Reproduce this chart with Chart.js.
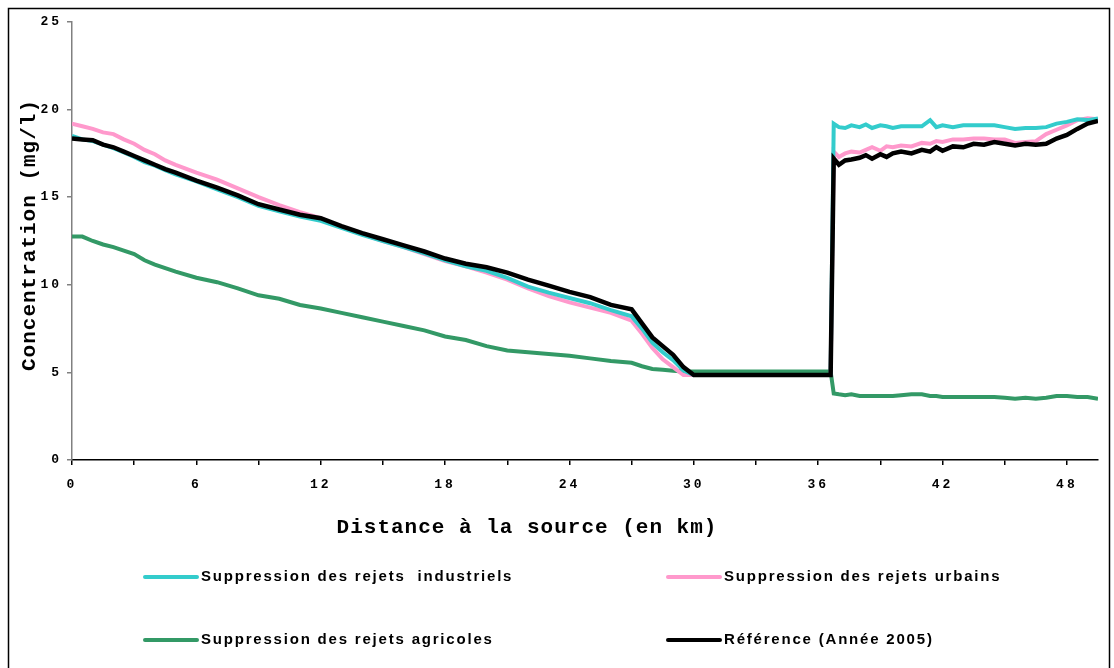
<!DOCTYPE html>
<html lang="fr">
<head>
<meta charset="utf-8">
<title>Concentration le long du cours d'eau</title>
<script src="https://cdn.jsdelivr.net/npm/chart.js@4/dist/chart.umd.min.js"></script>
<style>
  body { margin: 0; background: #fff; }
  #wrap { width: 1114px; height: 668px; }
</style>
</head>
<body>
<div id="wrap"><canvas id="concChart" width="1114" height="668"></canvas></div>
<script>
// distance from the source (km), shared by every series
const distanceKm = [
  0, 0.5, 1, 1.5, 2, 2.5, 3, 3.5, 4, 4.5, 5, 6, 7, 8, 9, 10, 11, 12, 13, 14,
  15, 16, 17, 18, 19, 20, 21, 22, 23, 24, 25, 26, 27, 27.5, 28, 28.5, 29, 29.5, 30, 33,
  36.6, 36.75, 37, 37.3, 37.6, 38, 38.3, 38.6, 39, 39.3, 39.6, 40, 40.5, 41, 41.4, 41.7,
  42, 42.5, 43, 43.5, 44, 44.5, 45, 45.5, 46, 46.5, 47, 47.5, 48, 48.5, 49, 49.5
];

const industriels = [
  18.5, 18.3, 18.2, 18.0, 17.8, 17.55, 17.3, 17.0, 16.8, 16.55, 16.3, 15.9, 15.45, 15.0, 14.5, 14.2, 13.9, 13.65, 13.25, 12.85,
  12.5, 12.15, 11.8, 11.4, 11.05, 10.8, 10.4, 9.9, 9.55, 9.25, 8.95, 8.55, 8.2, 7.5, 6.7, 6.15, 5.7, 5.1, 4.85, 4.85,
  4.85, 19.2, 19.0, 18.95, 19.1, 19.0, 19.15, 18.95, 19.1, 19.05, 18.95, 19.05, 19.05, 19.05, 19.4, 19.0,
  19.1, 19.0, 19.1, 19.1, 19.1, 19.1, 19.0, 18.9, 18.95, 18.95, 19.0, 19.2, 19.3, 19.45, 19.4, 19.5
];

const urbains = [
  19.2, 19.05, 18.9, 18.7, 18.6, 18.3, 18.05, 17.7, 17.45, 17.1, 16.85, 16.4, 16.0, 15.5, 15.0, 14.55, 14.15, 13.8, 13.3, 12.9,
  12.5, 12.15, 11.75, 11.35, 11.05, 10.7, 10.3, 9.8, 9.35, 9.0, 8.7, 8.4, 7.95, 7.2, 6.4, 5.75, 5.3, 4.85, 4.85, 4.85,
  4.85, 17.6, 17.3, 17.5, 17.6, 17.55, 17.7, 17.85, 17.65, 17.9, 17.85, 17.95, 17.9, 18.1, 18.05, 18.2,
  18.15, 18.3, 18.3, 18.35, 18.35, 18.3, 18.3, 18.1, 18.15, 18.2, 18.6, 18.85, 19.1, 19.4, 19.5, 19.45
];

const agricoles = [
  12.75, 12.75, 12.5, 12.3, 12.15, 11.95, 11.75, 11.4, 11.15, 10.95, 10.75, 10.4, 10.15, 9.8, 9.4, 9.2, 8.85, 8.65, 8.4, 8.15,
  7.9, 7.65, 7.4, 7.05, 6.85, 6.5, 6.25, 6.15, 6.05, 5.95, 5.8, 5.65, 5.55, 5.35, 5.2, 5.15, 5.1, 5.05, 5.05, 5.05,
  5.05, 3.8, 3.75, 3.7, 3.75, 3.65, 3.65, 3.65, 3.65, 3.65, 3.65, 3.7, 3.75, 3.75, 3.65, 3.65,
  3.6, 3.6, 3.6, 3.6, 3.6, 3.6, 3.55, 3.5, 3.55, 3.5, 3.55, 3.65, 3.65, 3.6, 3.6, 3.5
];

const reference2005 = [
  18.35, 18.3, 18.25, 18.0, 17.85, 17.6, 17.35, 17.1, 16.85, 16.6, 16.4, 15.95, 15.55, 15.1, 14.6, 14.3, 14.0, 13.8, 13.35, 12.95,
  12.6, 12.25, 11.9, 11.5, 11.2, 11.0, 10.7, 10.3, 9.95, 9.6, 9.3, 8.85, 8.6, 7.8, 7.0, 6.5, 6.0, 5.3, 4.85, 4.85,
  4.85, 17.2, 16.85, 17.1, 17.15, 17.25, 17.4, 17.2, 17.45, 17.3, 17.5, 17.6, 17.5, 17.7, 17.6, 17.85,
  17.65, 17.9, 17.85, 18.05, 18.0, 18.15, 18.05, 17.95, 18.05, 18.0, 18.05, 18.35, 18.55, 18.9, 19.2, 19.35
];

const seriesLabels = [
  'Suppression des rejets  industriels',
  'Suppression des rejets urbains',
  'Suppression des rejets agricoles',
  'Référence (Année 2005)'
];
const seriesColors = ['#33cccc', '#ff99cc', '#339966', '#000000'];

const xTickLabels = { 0: '0', 6: '6', 12: '12', 18: '18', 24: '24', 30: '30', 36: '36', 42: '42', 48: '48' };

function toPoints(values) {
  return distanceKm.map((d, i) => ({ x: d, y: values[i] }));
}

const monoFont = '"Liberation Mono", "Courier New", monospace';
const legendFont = '"Liberation Sans Narrow", "Liberation Sans", Arial, sans-serif';

// frame, spaced lettering, axis titles and the two-column legend
const decorPlugin = {
  id: 'decor',
  beforeDraw(chart) {
    const ctx = chart.ctx;
    ctx.save();
    ctx.strokeStyle = '#000';
    ctx.lineWidth = 1.5;
    ctx.strokeRect(8.5, 8.5, 1101, 700);
    ctx.restore();
    ctx.letterSpacing = '3px';
  },
  afterDraw(chart) {
    const ctx = chart.ctx;
    const area = chart.chartArea;
    ctx.save();
    ctx.letterSpacing = '1px';
    ctx.fillStyle = '#000';
    ctx.font = 'bold 21px ' + monoFont;
    ctx.textAlign = 'center';
    ctx.textBaseline = 'middle';
    ctx.fillText('Distance à la source (en km)', 527, 528);

    ctx.translate(30, (area.top + area.bottom) / 2 - 6);
    ctx.rotate(-Math.PI / 2);
    ctx.fillText('Concentration (mg/l)', 0, 0);
    ctx.restore();

    // legend
    const slots = [
      { x: 145, y: 577 }, { x: 668, y: 577 },
      { x: 145, y: 640 }, { x: 668, y: 640 }
    ];
    ctx.save();
    ctx.letterSpacing = '1.8px';
    ctx.font = 'bold 15px ' + legendFont;
    ctx.textBaseline = 'middle';
    ctx.textAlign = 'left';
    ctx.lineCap = 'round';
    chart.data.datasets.forEach((ds, i) => {
      const s = slots[i];
      ctx.strokeStyle = ds.borderColor;
      ctx.lineWidth = 4;
      ctx.beginPath();
      ctx.moveTo(s.x, s.y);
      ctx.lineTo(s.x + 52, s.y);
      ctx.stroke();
      ctx.fillStyle = '#000';
      ctx.fillText(ds.label, s.x + 56, s.y);
    });
    ctx.restore();
    ctx.letterSpacing = '0px';
  }
};

const seriesValues = [industriels, urbains, agricoles, reference2005];
const drawOrder = [1, 2, 3, 0];
const lineWidths = [4, 4, 4, 4.5];

const datasets = seriesValues.map((values, i) => ({
  label: seriesLabels[i],
  data: toPoints(values),
  borderColor: seriesColors[i],
  backgroundColor: seriesColors[i],
  borderWidth: lineWidths[i],
  pointRadius: 0,
  tension: 0,
  fill: false,
  order: drawOrder[i]
}));

new Chart(document.getElementById('concChart').getContext('2d'), {
  type: 'line',
  data: { datasets: datasets },
  plugins: [decorPlugin],
  options: {
    responsive: false,
    animation: false,
    events: [],
    layout: { padding: { left: 0, top: 22, right: 16, bottom: 0 } },
    plugins: {
      legend: { display: false },
      tooltip: { enabled: false }
    },
    scales: {
      x: {
        type: 'linear',
        min: 0,
        max: 49.5,
        afterFit(scale) { scale.height = 208; },
        afterBuildTicks(scale) {
          const ticks = [];
          for (let v = 0; v <= 48; v += 3) ticks.push({ value: v });
          scale.ticks = ticks;
        },
        ticks: {
          autoSkip: false,
          maxRotation: 0,
          padding: 12,
          color: '#000',
          font: { family: monoFont, size: 13, weight: 'bold' },
          callback: (v) => (xTickLabels[v] !== undefined ? xTickLabels[v] : '')
        },
        grid: { drawOnChartArea: false, drawTicks: true, tickLength: 5, color: '#000', lineWidth: 1.5 },
        border: { display: true, color: '#000', width: 1.5 }
      },
      y: {
        min: 0,
        max: 25,
        afterFit(scale) { scale.width = 72; },
        ticks: {
          stepSize: 5,
          padding: 5,
          color: '#000',
          font: { family: monoFont, size: 13, weight: 'bold' }
        },
        grid: { drawOnChartArea: false, drawTicks: true, tickLength: 5, color: '#808080', lineWidth: 1.5 },
        border: { display: true, color: '#808080', width: 1.5 }
      }
    }
  }
});
</script>
</body>
</html>
